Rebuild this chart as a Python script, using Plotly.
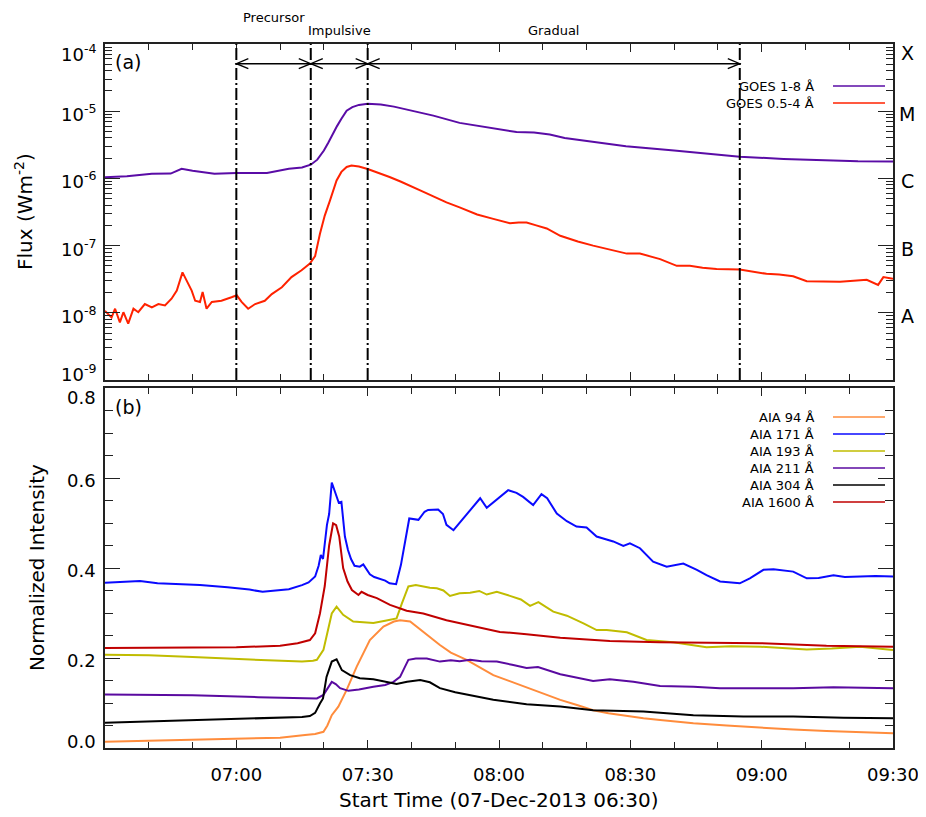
import math
import plotly.graph_objects as go

# ---------------- data (minutes after 06:30 UT, 07-Dec-2013) ----------------
time_tickvals = [0, 30, 60, 90, 120, 150, 180]
time_ticktext = ["", "07:00", "07:30", "08:00", "08:30", "09:00", "09:30"]

flux_tickvals = [1e-4, 1e-5, 1e-6, 1e-7, 1e-8, 1e-9]
flux_ticktext = ["10<sup>-4</sup>", "10<sup>-5</sup>", "10<sup>-6</sup>",
                 "10<sup>-7</sup>", "10<sup>-8</sup>", "10<sup>-9</sup>"]
norm_tickvals = [0.8, 0.6, 0.4, 0.2, 0.0]
norm_ticktext = ["0.8", "0.6", "0.4", "0.2", "0.0"]

goes_class_labels = ["X", "M", "C", "B", "A"]
goes_class_levels = [1e-4, 1e-5, 1e-6, 1e-7, 1e-8]

phase_bounds = [30, 47, 60, 145]
phase_names = ["Precursor", "Impulsive", "Gradual"]
phase_arrow_level = 5.1e-5

goes_long_t = [0, 5, 10.7, 15, 17.5, 20, 25, 30, 37, 42,
               45, 47, 48.5, 50, 51, 52, 53, 54, 55.2, 56.5,
               58, 60, 63, 66, 70, 75, 81, 88, 94, 98,
               101.6, 105, 112, 119, 130, 145, 155, 165, 172, 180]
goes_long = [1.04e-6, 1.08e-6, 1.17e-6, 1.18e-6, 1.39e-6, 1.3e-6, 1.17e-6, 1.2e-6, 1.2e-6, 1.39e-6,
             1.45e-6, 1.6e-6, 1.9e-6, 2.6e-6, 3.4e-6, 4.6e-6, 6.0e-6, 7.7e-6, 1.02e-5, 1.15e-5,
             1.24e-5, 1.29e-5, 1.26e-5, 1.17e-5, 1.03e-5, 8.6e-6, 6.7e-6, 5.6e-6, 4.9e-6, 4.8e-6,
             4.5e-6, 4.0e-6, 3.5e-6, 3.0e-6, 2.6e-6, 2.1e-6, 1.95e-6, 1.85e-6, 1.8e-6, 1.78e-6]

goes_short_t = [0, 1.5, 2.3, 3.4, 4.2, 5.3, 6.5, 7.6, 9.1, 10.7,
                12.2, 13.7, 15.2, 16.4, 17.7, 18.7, 19.8, 20.6, 21.7, 22.3,
                23.2, 24.4, 26.6, 28.9, 30.1, 31.2, 32.7, 34.3, 36.5, 38.1,
                40.4, 42.6, 44.9, 46.8, 48.0, 49.1, 50.2, 51.4, 52.9, 54.0,
                55.2, 56.3, 58.0, 60.0, 62.5, 65, 67.5, 70, 72.5, 75,
                78, 81, 85, 88.7, 92.5, 94.5, 96.3, 98.5, 100.9, 104,
                108, 111.5, 115, 119.2, 122.2, 126.8, 130.6, 133.6, 136.5, 139.7,
                145, 148, 151.1, 154, 157.2, 160.3, 164, 167.9, 171, 174,
                176.6, 177.8, 180]
goes_short = [1.07e-8, 8.5e-9, 1.15e-8, 7.2e-9, 1.02e-8, 6.9e-9, 1.15e-8, 1.02e-8, 1.35e-8, 1.2e-8,
              1.35e-8, 1.29e-8, 1.62e-8, 2.14e-8, 4.0e-8, 3.0e-8, 2.14e-8, 1.51e-8, 1.45e-8, 2.04e-8,
              1.15e-8, 1.45e-8, 1.51e-8, 1.7e-8, 1.82e-8, 1.45e-8, 1.15e-8, 1.35e-8, 1.51e-8, 1.9e-8,
              2.4e-8, 3.4e-8, 4.3e-8, 5.4e-8, 7.0e-8, 1.5e-7, 2.8e-7, 4.7e-7, 9.3e-7, 1.25e-6,
              1.48e-6, 1.55e-6, 1.5e-6, 1.38e-6, 1.22e-6, 1.05e-6, 9.0e-7, 7.5e-7, 6.4e-7, 5.4e-7,
              4.4e-7, 3.7e-7, 2.9e-7, 2.5e-7, 2.15e-7, 2.2e-7, 2.2e-7, 2.0e-7, 1.8e-7, 1.4e-7,
              1.15e-7, 1.0e-7, 8.8e-8, 7.6e-8, 7.6e-8, 6.3e-8, 5.0e-8, 5.0e-8, 4.7e-8, 4.5e-8,
              4.4e-8, 4.1e-8, 3.8e-8, 3.7e-8, 3.5e-8, 2.95e-8, 2.9e-8, 2.9e-8, 3.0e-8, 3.1e-8,
              2.6e-8, 3.4e-8, 3.2e-8]

aia94_t = [0, 10, 21.7, 30, 40, 45.7, 48, 49.9, 50.8, 51.8,
           53.3, 55.2, 57.5, 60.5, 63.6, 66, 67.4, 69.7, 72.7, 76.5,
           79, 82.6, 88.7, 92.5, 96.3, 100, 104, 108, 111.5, 115,
           119.2, 123, 126.8, 130.6, 134.4, 142, 149.6, 157.2, 164.8, 172.5, 180]
aia94 = [0.014, 0.016, 0.018, 0.020, 0.023, 0.029, 0.031, 0.036, 0.050, 0.073,
         0.092, 0.129, 0.181, 0.240, 0.270, 0.281, 0.284, 0.281, 0.258, 0.229,
         0.212, 0.196, 0.162, 0.148, 0.134, 0.120, 0.107, 0.095, 0.084, 0.077,
         0.071, 0.066, 0.062, 0.058, 0.055, 0.050, 0.045, 0.041, 0.038, 0.035, 0.033]

aia171_t = [0, 4, 8, 12, 16, 21.7, 28, 33, 36, 39,
            42, 45, 46.5, 48, 48.8, 49.3, 49.8, 50.7, 51.2, 51.8,
            52.3, 52.8, 53.4, 54, 54.8, 55.5, 56.2, 57, 58.2, 59,
            60.5, 61.5, 62.8, 64, 65, 66.5, 67.6, 68.5, 69.5, 71.6,
            73, 73.8, 76.1, 77.2, 78, 79.6, 81, 83.4, 85.7, 87.2,
            90.2, 92.1, 94, 95.5, 97.8, 99.7, 101, 103.2, 105.5, 107.7,
            110, 112.3, 114, 116.1, 118.4, 119.9, 122.2, 125.2, 128.3, 132.1,
            135.2, 137.4, 140.5, 143, 145, 147.3, 150.4, 152.7, 157.2, 160.3,
            163, 166.4, 169, 172.5, 176, 180]
aia171 = [0.367, 0.369, 0.371, 0.366, 0.364, 0.362, 0.357, 0.352, 0.347, 0.350,
          0.353, 0.362, 0.368, 0.381, 0.405, 0.429, 0.420, 0.496, 0.520, 0.590,
          0.575, 0.562, 0.545, 0.547, 0.470, 0.440, 0.420, 0.405, 0.403, 0.408,
          0.386, 0.380, 0.376, 0.372, 0.366, 0.364, 0.407, 0.459, 0.510, 0.507,
          0.525, 0.529, 0.530, 0.520, 0.496, 0.484, 0.500, 0.529, 0.555, 0.534,
          0.558, 0.573, 0.567, 0.558, 0.540, 0.564, 0.555, 0.521, 0.504, 0.492,
          0.490, 0.470, 0.465, 0.459, 0.449, 0.455, 0.444, 0.414, 0.403, 0.410,
          0.396, 0.384, 0.370, 0.367, 0.366, 0.377, 0.396, 0.397, 0.392, 0.377,
          0.378, 0.384, 0.380, 0.381, 0.382, 0.381]

aia193_t = [0, 10, 20, 30, 40, 45, 47.5, 48.4, 49.9, 50.8,
            51.8, 52.9, 54.4, 56.7, 59, 61.3, 64, 66.6, 67.8, 69.3,
            71, 72.7, 74.2, 75.8, 77.3, 78.8, 81, 83.4, 85.5, 87.2,
            89.5, 92.5, 95, 97.1, 99, 102.4, 105.5, 109.3, 112.3, 114.6,
            117, 119.2, 123.7, 129.8, 137.4, 143, 149.6, 155, 160.3, 166, 172.5, 180]
aia193 = [0.207, 0.206, 0.202, 0.198, 0.195, 0.192, 0.194, 0.196, 0.218, 0.255,
          0.299, 0.314, 0.296, 0.281, 0.279, 0.278, 0.283, 0.288, 0.321, 0.359,
          0.362, 0.359, 0.356, 0.355, 0.350, 0.338, 0.344, 0.345, 0.349, 0.341,
          0.347, 0.338, 0.330, 0.316, 0.324, 0.303, 0.294, 0.277, 0.262, 0.262,
          0.260, 0.257, 0.240, 0.235, 0.224, 0.226, 0.225, 0.222, 0.219, 0.221, 0.225, 0.218]

aia211_t = [0, 20, 35, 47, 48.4, 49.9, 50.8, 51.8, 52.7, 53.7,
            55.6, 58, 61.3, 64, 65.9, 67.4, 68.4, 69.3, 71, 73.5,
            76.5, 79, 81, 83.4, 86, 89.5, 93, 96.3, 98.9, 104,
            111.5, 115.3, 120.7, 126.8, 134.4, 140.5, 148, 157.2, 166.4, 173, 180]
aia211 = [0.119, 0.117, 0.113, 0.110, 0.110, 0.118, 0.132, 0.147, 0.142, 0.133,
          0.127, 0.130, 0.136, 0.140, 0.147, 0.158, 0.178, 0.196, 0.199, 0.199,
          0.192, 0.195, 0.193, 0.196, 0.193, 0.192, 0.185, 0.178, 0.180, 0.164,
          0.149, 0.153, 0.147, 0.138, 0.136, 0.133, 0.133, 0.133, 0.135, 0.134, 0.133]

aia304_t = [0, 21.7, 42, 45, 46.8, 48, 49.1, 49.8, 50.6, 51.8,
            52.9, 54.1, 56, 58.2, 61.3, 64, 66.6, 69, 72, 74.2,
            76.5, 80, 83.4, 88.7, 96.3, 104, 111.5, 123, 134.4, 145.8, 157.2, 168.7, 180]
aia304 = [0.056, 0.062, 0.068, 0.069, 0.071, 0.078, 0.099, 0.110, 0.158, 0.192,
          0.197, 0.173, 0.162, 0.155, 0.153, 0.147, 0.142, 0.147, 0.151, 0.146,
          0.133, 0.124, 0.118, 0.107, 0.097, 0.092, 0.084, 0.081, 0.073, 0.070, 0.070, 0.067, 0.066]

aia1600_t = [0, 20, 30, 40, 44, 46.8, 48, 49.1, 50.2, 51.2,
             52.1, 52.8, 53.5, 54.4, 55.4, 56.4, 57.9, 58.6, 60, 62.1,
             65.1, 68.9, 72.7, 78, 83.4, 90.2, 96.3, 104, 115.3, 126.7, 138, 149.6, 164.8, 180]
aia1600 = [0.222, 0.224, 0.224, 0.227, 0.233, 0.240, 0.255, 0.299, 0.360, 0.450,
           0.499, 0.495, 0.470, 0.400, 0.370, 0.351, 0.340, 0.347, 0.340, 0.333,
           0.318, 0.305, 0.299, 0.284, 0.273, 0.258, 0.253, 0.245, 0.238, 0.235, 0.234, 0.233, 0.227, 0.225]

goes_names = ["GOES 1-8 Å", "GOES 0.5-4 Å"]
goes_colors = ["#5a0ca6", "#ff2200"]
aia_names = ["AIA 94 Å", "AIA 171 Å", "AIA 193 Å", "AIA 211 Å", "AIA 304 Å", "AIA 1600 Å"]
aia_colors = ["#ff8c3c", "#0a0aff", "#c0bc00", "#5a0aa0", "#000000", "#c00000"]

# ---------------- layout geometry (page pixels; page body has an 8px margin) ----------------
BODY = 8
PAGE_W, PAGE_H = 926, 817
PL, PR, PT, PB = 105, 893, 44, 748          # plot area on the page
W, H = PAGE_W - BODY, PAGE_H - BODY
ML, MT = PL - BODY, PT - BODY
MR, MB = PAGE_W - PR, PAGE_H - PB
PW = PR - PL
PH = PB - PT
FONT = "DejaVu Sans"


def px_x(p):
    return (p - PL) / PW


def px_y(p):
    return (PB - p) / PH


def fnt(size):
    return dict(family=FONT, size=size, color="black")


fig = go.Figure()

goes_series = [(goes_long_t, goes_long), (goes_short_t, goes_short)]
for (t, v), name, col in zip(goes_series, goes_names, goes_colors):
    fig.add_trace(go.Scatter(x=t, y=v, mode="lines", name=name, showlegend=False,
                             line=dict(color=col, width=2), xaxis="x", yaxis="y"))

aia_series = [(aia94_t, aia94), (aia171_t, aia171), (aia193_t, aia193),
              (aia211_t, aia211), (aia304_t, aia304), (aia1600_t, aia1600)]
for (t, v), name, col in zip(aia_series, aia_names, aia_colors):
    fig.add_trace(go.Scatter(x=t, y=v, mode="lines", name=name, showlegend=False,
                             line=dict(color=col, width=2), xaxis="x2", yaxis="y2"))

axis_common = dict(showgrid=False, zeroline=False, showline=True, linecolor="#222",
                   linewidth=1.5, mirror="allticks", ticks="inside", tickcolor="#222",
                   automargin=False, tickfont=fnt(18))

top_dom = [px_y(380), 1.0]
bot_dom = [0.0, px_y(388)]

fig.update_layout(
    width=W, height=H, margin=dict(l=ML, r=MR, t=MT, b=MB, autoexpand=False),
    paper_bgcolor="white", plot_bgcolor="white", template="none",
    font=dict(family=FONT, color="black"),
    xaxis=dict(axis_common, domain=[0, 1], anchor="y", range=[0, 180],
               tickvals=time_tickvals, ticktext=time_ticktext, showticklabels=False,
               ticklen=8, minor=dict(dtick=10, tick0=0, ticks="inside", ticklen=6, tickcolor="#222")),
    yaxis=dict(axis_common, domain=top_dom, anchor="x", type="log", range=[-9, -4],
               tickvals=flux_tickvals, showticklabels=False, ticklen=15,
               minor=dict(dtick="D1", ticks="inside", ticklen=7, tickcolor="#222")),
    xaxis2=dict(axis_common, domain=[0, 1], anchor="y2", range=[0, 180], matches="x",
                tickvals=time_tickvals, ticktext=time_ticktext, ticklen=8,
                ticklabelstandoff=10,
                minor=dict(dtick=10, tick0=0, ticks="inside", ticklen=6, tickcolor="#222")),
    yaxis2=dict(axis_common, domain=bot_dom, anchor="x2", range=[0, 0.8],
                tickvals=norm_tickvals, showticklabels=False, ticklen=15,
                minor=dict(dtick=0.05, ticks="inside", ticklen=8, tickcolor="#222")),
)

shapes = []
annotations = []


# y tick labels drawn as text, end labels nudged inside the panel (IDL style)
def add_ytick_labels(vals, texts, yref, is_log):
    n = len(vals)
    for i, (v, tx) in enumerate(zip(vals, texts)):
        shift = -9 if i == 0 else (7 if i == n - 1 else -2)
        annotations.append(dict(text=tx, x=px_x(PL - 7), xref="paper",
                                y=math.log10(v) if is_log else v, yref=yref, yshift=shift,
                                showarrow=False, xanchor="right", yanchor="middle", font=fnt(18)))


add_ytick_labels(flux_tickvals, flux_ticktext, "y", True)
add_ytick_labels(norm_tickvals, norm_ticktext, "y2", False)

# phase boundaries (dash-dot) in the top panel
for b in phase_bounds:
    shapes.append(dict(type="line", xref="x", yref="y domain", x0=b, x1=b, y0=0, y1=1,
                       line=dict(color="black", width=2, dash="12px,3px,2px,3px")))
# arrow line
shapes.append(dict(type="line", xref="x", yref="y", x0=phase_bounds[0], x1=phase_bounds[-1],
                   y0=phase_arrow_level, y1=phase_arrow_level, line=dict(color="black", width=1.5)))
for a, b in zip(phase_bounds[:-1], phase_bounds[1:]):
    shapes.append(dict(type="path", xref="x", yref="y", xsizemode="pixel", ysizemode="pixel",
                       xanchor=a, yanchor=phase_arrow_level, path="M 12,5 L 0,0 L 12,-5",
                       line=dict(color="black", width=1.3)))
    shapes.append(dict(type="path", xref="x", yref="y", xsizemode="pixel", ysizemode="pixel",
                       xanchor=b, yanchor=phase_arrow_level, path="M -12,5 L 0,0 L -12,-5",
                       line=dict(color="black", width=1.3)))

phase_label_y = [px_y(17), px_y(31), px_y(30)]
for (a, b), name, yy in zip(zip(phase_bounds[:-1], phase_bounds[1:]), phase_names, phase_label_y):
    annotations.append(dict(text=name, x=(a + b) / 2, xref="x", y=yy, yref="paper",
                            showarrow=False, xanchor="center", yanchor="middle", font=fnt(13)))

# GOES class letters on the right
for lab, lev in zip(goes_class_labels, goes_class_levels):
    shift = -9 if lev == goes_class_levels[0] else -3
    annotations.append(dict(text=lab, x=px_x(907), xref="paper", y=math.log10(lev), yref="y",
                            yshift=shift, showarrow=False, xanchor="center", yanchor="middle",
                            font=fnt(19)))

# panel labels
annotations.append(dict(text="(a)", x=px_x(113), xref="paper", y=px_y(62), yref="paper",
                        showarrow=False, xanchor="left", yanchor="middle", font=fnt(19)))
annotations.append(dict(text="(b)", x=px_x(113), xref="paper", y=px_y(407), yref="paper",
                        showarrow=False, xanchor="left", yanchor="middle", font=fnt(19)))

# axis titles
annotations.append(dict(text="Flux (Wm<sup>-2</sup>)", x=px_x(24), xref="paper", y=px_y(212),
                        yref="paper", textangle=-90, showarrow=False, xanchor="center",
                        yanchor="middle", font=fnt(20)))
annotations.append(dict(text="Normalized Intensity", x=px_x(37), xref="paper", y=px_y(568),
                        yref="paper", textangle=-90, showarrow=False, xanchor="center",
                        yanchor="middle", font=fnt(20)))
annotations.append(dict(text="Start Time (07-Dec-2013 06:30)", x=px_x(499), xref="paper",
                        y=px_y(800), yref="paper", showarrow=False, xanchor="center",
                        yanchor="middle", font=fnt(20)))


# custom legends (text left, line right)
def add_legend(names, colors, y0_px):
    for i, (nm, col) in enumerate(zip(names, colors)):
        ypx = y0_px + 17 * i
        annotations.append(dict(text=nm, x=px_x(816), xref="paper", y=px_y(ypx), yref="paper",
                                showarrow=False, xanchor="right", yanchor="middle", font=fnt(13)))
        shapes.append(dict(type="line", xref="paper", yref="paper", x0=px_x(833), x1=px_x(885),
                           y0=px_y(ypx), y1=px_y(ypx), line=dict(color=col, width=1.5)))


add_legend(goes_names, goes_colors, 86)
add_legend(aia_names, aia_colors, 417)

fig.update_layout(shapes=shapes, annotations=annotations)
fig.write_html("out.html")
